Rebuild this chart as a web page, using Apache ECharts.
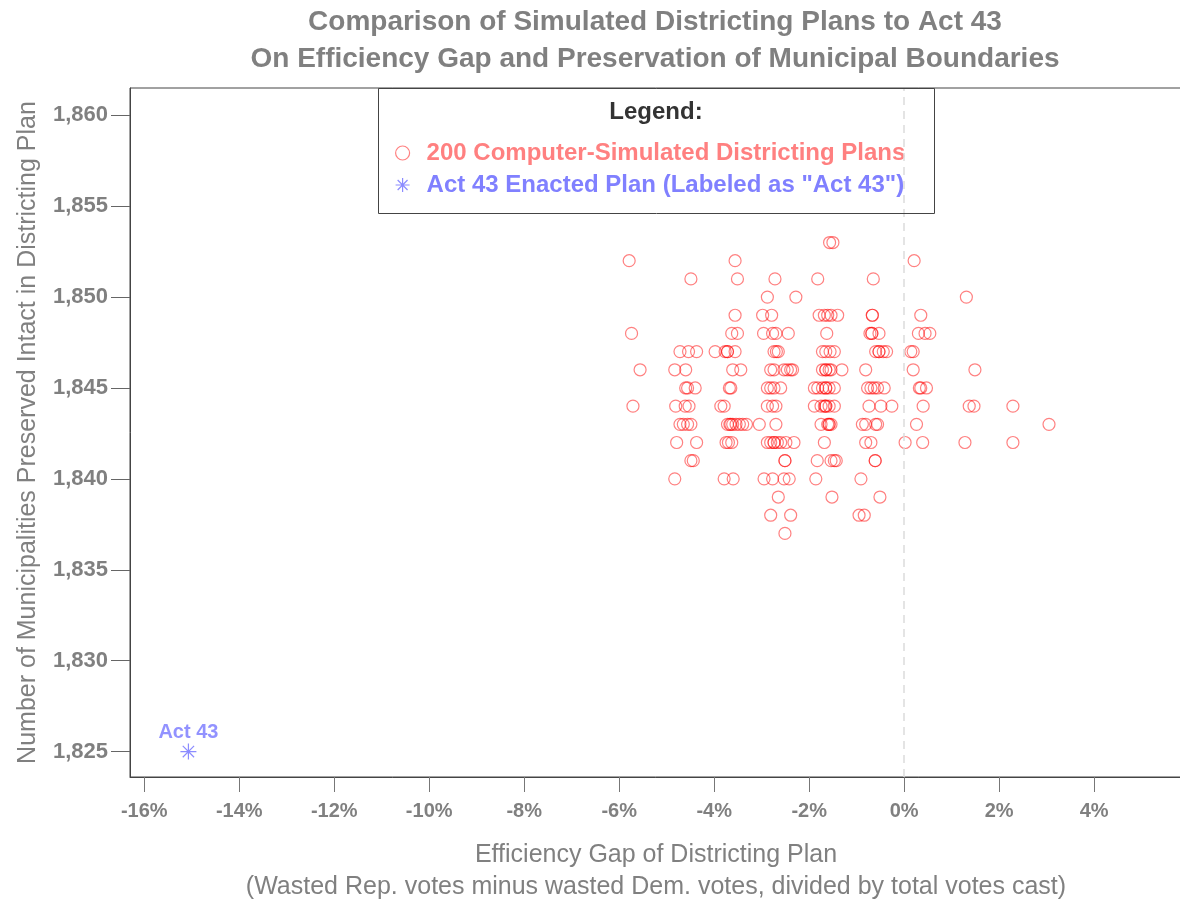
<!DOCTYPE html>
<html>
<head>
<meta charset="utf-8">
<script src="https://cdn.jsdelivr.net/npm/echarts@6/dist/echarts.min.js"></script>
<style>
html,body{margin:0;padding:0;background:#ffffff;}
#chart{width:1180px;height:901px;}
</style>
</head>
<body>
<div id="chart"></div>
<script>
// ---------- DATA ----------
const titleLines = [
  'Comparison of Simulated Districting Plans to Act 43',
  'On Efficiency Gap and Preservation of Municipal Boundaries'
];
const xNameLines = [
  'Efficiency Gap of Districting Plan',
  '(Wasted Rep. votes minus wasted Dem. votes, divided by total votes cast)'
];
const yName = 'Number of Municipalities Preserved Intact in Districting Plan';
const simName = '200 Computer-Simulated Districting Plans';
const actName = 'Act 43 Enacted Plan (Labeled as "Act 43")';
const actLabel = 'Act 43';

// x tick values (percent) and y tick values
const xTicks = [-16, -14, -12, -10, -8, -6, -4, -2, 0, 2, 4];
const yTicks = [1825, 1830, 1835, 1840, 1845, 1850, 1855, 1860];

// Simulated plans: municipalities preserved (rows) and efficiency gaps (%) at each row
const muniLevels = [1853, 1852, 1851, 1850, 1849, 1848, 1847, 1846, 1845, 1844, 1843, 1842, 1841, 1840, 1839, 1838, 1837];
const gapsAtLevel = [
  [-1.57, -1.50],
  [-5.79, -3.56, 0.21],
  [-4.49, -3.51, -2.72, -1.82, -0.65],
  [-2.88, -2.28, 1.31],
  [-3.56, -2.98, -2.79, -1.79, -1.68, -1.61, -1.54, -1.40, -0.67, -0.67, 0.35],
  [-5.74, -3.63, -3.51, -2.96, -2.77, -2.70, -2.44, -1.63, -0.72, -0.68, -0.68, -0.53, 0.30, 0.44, 0.54],
  [-4.72, -4.54, -4.37, -3.98, -3.77, -3.72, -3.72, -3.56, -2.74, -2.69, -2.65, -1.72, -1.65, -1.56, -1.47, -0.60, -0.53, -0.53, -0.44, -0.37, 0.14, 0.19],
  [-5.56, -4.83, -4.60, -3.61, -3.44, -2.81, -2.74, -2.53, -2.46, -2.39, -2.35, -1.72, -1.65, -1.65, -1.58, -1.54, -1.31, -0.81, 0.19, 1.49],
  [-4.60, -4.56, -4.40, -3.68, -3.65, -2.88, -2.81, -2.74, -2.60, -1.89, -1.82, -1.72, -1.65, -1.65, -1.58, -1.47, -0.77, -0.70, -0.63, -0.56, -0.42, 0.32, 0.35, 0.47],
  [-5.71, -4.81, -4.61, -4.53, -3.86, -3.79, -2.88, -2.77, -2.70, -1.89, -1.75, -1.68, -1.65, -1.65, -1.58, -1.47, -0.74, -0.49, -0.26, 0.40, 1.37, 1.47, 2.29],
  [-4.72, -4.65, -4.56, -4.49, -3.72, -3.67, -3.65, -3.61, -3.54, -3.47, -3.40, -3.32, -3.05, -2.70, -1.75, -1.61, -1.58, -1.58, -1.54, -0.88, -0.81, -0.60, -0.56, 0.26, 3.05],
  [-4.79, -4.37, -3.75, -3.70, -3.63, -2.88, -2.81, -2.74, -2.74, -2.67, -2.60, -2.49, -2.32, -1.68, -0.81, -0.70, 0.02, 0.39, 1.28, 2.29],
  [-4.49, -4.44, -2.51, -2.51, -1.83, -1.54, -1.47, -1.43, -0.61, -0.61],
  [-4.83, -3.79, -3.60, -2.95, -2.77, -2.53, -2.42, -1.86, -0.91],
  [-2.65, -1.52, -0.51],
  [-2.81, -2.39, -0.95, -0.84],
  [-2.51]
];

// Act 43 enacted plan
const act43Gap = [-15.07];
const act43Muni = [1825];

// ---------- CHART ----------
const FONT = "'Liberation Sans', Arial, Helvetica, sans-serif";
const GRAY = '#808080';

const simData = [];
muniLevels.forEach(function (m, i) {
  gapsAtLevel[i].forEach(function (g) { simData.push([g, m]); });
});
const actData = act43Gap.map(function (g, i) { return [g, act43Muni[i]]; });

const asteriskPath = 'path://M0,8L16,8M8,0L8,16M2.34,2.34L13.66,13.66M13.66,2.34L2.34,13.66';

function withComma(v) {
  return String(v).replace(/\B(?=(\d{3})+(?!\d))/g, ',');
}

const chart = echarts.init(document.getElementById('chart'), null, { renderer: 'canvas' });

const option = {
  animation: false,
  backgroundColor: '#ffffff',
  textStyle: { fontFamily: FONT },
  title: {
    text: titleLines.join('\n'),
    left: 655,
    top: 4,
    padding: 0,
    textAlign: 'center',
    textStyle: { fontFamily: FONT, fontSize: 28, fontWeight: 'bold', color: GRAY, lineHeight: 37 }
  },
  grid: {
    left: 130, right: -2, top: 88, bottom: 124,
    show: true, borderColor: '#444', borderWidth: 1,
    containLabel: false, outerBoundsMode: 'none'
  },
  legend: {
    orient: 'vertical',
    left: 395,
    top: 141,
    padding: 0,
    itemWidth: 38,
    itemHeight: 14,
    itemGap: 8,
    selectedMode: false,
    itemStyle: { borderWidth: 1.2 },
    textStyle: { fontFamily: FONT, fontSize: 24, fontWeight: 'bold' },
    data: [
      { name: simName, textStyle: { color: '#ff8080' } },
      { name: actName, textStyle: { color: '#8080ff' } }
    ]
  },
  xAxis: {
    type: 'value',
    min: -16.3,
    max: 5.85,
    name: xNameLines.join('\n'),
    nameLocation: 'middle',
    nameGap: 62,
    nameTextStyle: { fontFamily: FONT, fontSize: 25, color: GRAY, lineHeight: 32 },
    axisLine: { show: true, onZero: false, lineStyle: { color: '#444', width: 1 } },
    axisTick: { show: true, length: 15, customValues: xTicks, lineStyle: { color: '#777' } },
    axisLabel: {
      customValues: xTicks, margin: 24,
      formatter: function (v) { return v + '%'; },
      fontFamily: FONT, fontSize: 20, fontWeight: 'bold', color: GRAY
    },
    splitLine: { show: false }
  },
  yAxis: {
    type: 'value',
    min: 1823.6,
    max: 1861.5,
    name: yName,
    nameLocation: 'middle',
    nameGap: 89,
    nameTextStyle: { fontFamily: FONT, fontSize: 25, color: GRAY },
    axisLine: { show: true, onZero: false, lineStyle: { color: '#444', width: 1 } },
    axisTick: { show: true, length: 19, customValues: yTicks, lineStyle: { color: '#666' } },
    axisLabel: {
      customValues: yTicks, margin: 22,
      formatter: function (v) { return withComma(v); },
      fontFamily: FONT, fontSize: 22, fontWeight: 'bold', color: GRAY
    },
    splitLine: { show: false }
  },
  graphic: [
    {
      type: 'rect', z: 50,
      shape: { x: 378.5, y: 88.5, width: 556, height: 125 },
      style: { fill: 'none', stroke: '#444', lineWidth: 1 }
    },
    {
      type: 'text', z: 50, x: 656, y: 112,
      style: {
        text: 'Legend:', fontFamily: FONT, fontSize: 24, fontWeight: 'bold',
        fill: '#333333', align: 'center', verticalAlign: 'middle'
      }
    }
  ],
  series: [
    {
      name: simName,
      type: 'scatter',
      symbol: 'circle',
      symbolSize: 12,
      data: simData,
      itemStyle: { color: 'rgba(0,0,0,0)', borderColor: 'rgba(255,0,0,0.62)', borderWidth: 1.2 },
      emphasis: { disabled: true },
      markLine: {
        silent: true,
        symbol: ['none', 'none'],
        label: { show: false },
        lineStyle: { type: [8, 6], color: '#dcdcdc', width: 1.5 },
        data: [{ xAxis: 0 }]
      },
      z: 3
    },
    {
      name: actName,
      type: 'scatter',
      symbol: asteriskPath,
      symbolSize: 16,
      data: actData,
      itemStyle: { color: 'rgba(0,0,0,0)', borderColor: '#6f6fff', borderWidth: 1.2 },
      label: {
        show: true, position: 'top', distance: 0,
        formatter: actLabel,
        fontFamily: FONT, fontSize: 20, fontWeight: 'bold', color: '#7777ff'
      },
      emphasis: { disabled: true },
      z: 4
    }
  ]
};

chart.setOption(option);
</script>
</body>
</html>
